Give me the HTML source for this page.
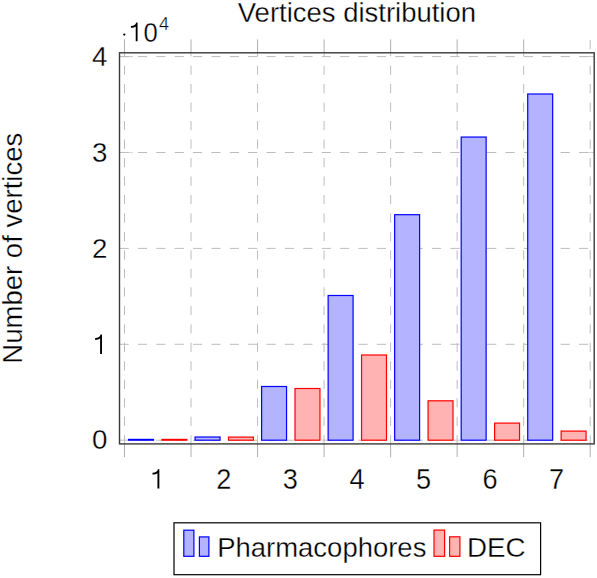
<!DOCTYPE html>
<html><head><meta charset="utf-8"><style>
html,body{margin:0;padding:0;background:#fff;}
svg{display:block;}
text{font-family:"Liberation Sans",sans-serif;}
</style></head><body>
<svg width="597" height="578" viewBox="0 0 597 578">
<rect width="597" height="578" fill="#fff"/>
<line x1="119.50" y1="152.50" x2="132.80" y2="152.50" stroke="#d6d6d6" stroke-width="1"/>
<line x1="580.90" y1="152.50" x2="594.20" y2="152.50" stroke="#d6d6d6" stroke-width="1"/>
<line x1="119.50" y1="56.60" x2="132.80" y2="56.60" stroke="#c4c4c4" stroke-width="1"/>
<line x1="580.90" y1="56.60" x2="594.20" y2="56.60" stroke="#c4c4c4" stroke-width="1"/>
<line x1="124.50" y1="47.10" x2="124.50" y2="444.5" stroke="#bdbdbd" stroke-width="1" stroke-dasharray="9.24 9.24"/>
<line x1="191.03" y1="47.10" x2="191.03" y2="444.5" stroke="#bdbdbd" stroke-width="1" stroke-dasharray="9.24 9.24"/>
<line x1="257.56" y1="47.10" x2="257.56" y2="444.5" stroke="#bdbdbd" stroke-width="1" stroke-dasharray="9.24 9.24"/>
<line x1="324.09" y1="47.10" x2="324.09" y2="444.5" stroke="#bdbdbd" stroke-width="1" stroke-dasharray="9.24 9.24"/>
<line x1="390.61" y1="47.10" x2="390.61" y2="444.5" stroke="#bdbdbd" stroke-width="1" stroke-dasharray="9.24 9.24"/>
<line x1="457.14" y1="47.10" x2="457.14" y2="444.5" stroke="#bdbdbd" stroke-width="1" stroke-dasharray="9.24 9.24"/>
<line x1="523.67" y1="47.10" x2="523.67" y2="444.5" stroke="#bdbdbd" stroke-width="1" stroke-dasharray="9.24 9.24"/>
<line x1="590.20" y1="65.58" x2="590.20" y2="444.5" stroke="#bdbdbd" stroke-width="1" stroke-dasharray="9.24 9.24"/>
<line x1="119.50" y1="440.20" x2="594.20" y2="440.20" stroke="#bdbdbd" stroke-width="1" stroke-dasharray="9.19 9.19"/>
<line x1="119.50" y1="344.30" x2="594.20" y2="344.30" stroke="#bdbdbd" stroke-width="1" stroke-dasharray="9.19 9.19"/>
<line x1="119.50" y1="248.40" x2="594.20" y2="248.40" stroke="#bdbdbd" stroke-width="1" stroke-dasharray="9.19 9.19"/>
<line x1="119.50" y1="152.50" x2="594.20" y2="152.50" stroke="#bdbdbd" stroke-width="1" stroke-dasharray="9.19 9.19"/>
<line x1="119.50" y1="56.60" x2="594.20" y2="56.60" stroke="#bdbdbd" stroke-width="1" stroke-dasharray="9.19 9.19"/>
<rect x="0" y="0" width="597" height="52.20" fill="#fff"/>
<line x1="124.50" y1="39.4" x2="124.50" y2="52.80" stroke="#b0b0b0" stroke-width="1"/>
<line x1="124.50" y1="443.90" x2="124.50" y2="457.1" stroke="#b0b0b0" stroke-width="1"/>
<line x1="191.03" y1="39.4" x2="191.03" y2="52.80" stroke="#b0b0b0" stroke-width="1"/>
<line x1="191.03" y1="443.90" x2="191.03" y2="457.1" stroke="#b0b0b0" stroke-width="1"/>
<line x1="257.56" y1="39.4" x2="257.56" y2="52.80" stroke="#b0b0b0" stroke-width="1"/>
<line x1="257.56" y1="443.90" x2="257.56" y2="457.1" stroke="#b0b0b0" stroke-width="1"/>
<line x1="324.09" y1="39.4" x2="324.09" y2="52.80" stroke="#b0b0b0" stroke-width="1"/>
<line x1="324.09" y1="443.90" x2="324.09" y2="457.1" stroke="#b0b0b0" stroke-width="1"/>
<line x1="390.61" y1="39.4" x2="390.61" y2="52.80" stroke="#b0b0b0" stroke-width="1"/>
<line x1="390.61" y1="443.90" x2="390.61" y2="457.1" stroke="#b0b0b0" stroke-width="1"/>
<line x1="457.14" y1="39.4" x2="457.14" y2="52.80" stroke="#b0b0b0" stroke-width="1"/>
<line x1="457.14" y1="443.90" x2="457.14" y2="457.1" stroke="#b0b0b0" stroke-width="1"/>
<line x1="523.67" y1="39.4" x2="523.67" y2="52.80" stroke="#b0b0b0" stroke-width="1"/>
<line x1="523.67" y1="443.90" x2="523.67" y2="457.1" stroke="#b0b0b0" stroke-width="1"/>
<line x1="590.20" y1="39.8" x2="590.20" y2="49.1" stroke="#bdbdbd" stroke-width="1"/>
<line x1="590.20" y1="443.90" x2="590.20" y2="457.1" stroke="#b0b0b0" stroke-width="1"/>
<rect x="128.55" y="439.40" width="24.95" height="0.80" fill="#b3b3ff" stroke="#0000ff" stroke-width="1.2"/>
<rect x="161.95" y="439.40" width="24.95" height="0.80" fill="#ffb3b3" stroke="#ff0000" stroke-width="1.2"/>
<rect x="195.08" y="437.00" width="24.95" height="3.20" fill="#b3b3ff" stroke="#0000ff" stroke-width="1.2"/>
<rect x="228.48" y="437.10" width="24.95" height="3.10" fill="#ffb3b3" stroke="#ff0000" stroke-width="1.2"/>
<rect x="261.61" y="386.50" width="24.95" height="53.70" fill="#b3b3ff" stroke="#0000ff" stroke-width="1.2"/>
<rect x="295.01" y="388.50" width="24.95" height="51.70" fill="#ffb3b3" stroke="#ff0000" stroke-width="1.2"/>
<rect x="328.14" y="295.50" width="24.95" height="144.70" fill="#b3b3ff" stroke="#0000ff" stroke-width="1.2"/>
<rect x="361.54" y="355.00" width="24.95" height="85.20" fill="#ffb3b3" stroke="#ff0000" stroke-width="1.2"/>
<rect x="394.66" y="214.70" width="24.95" height="225.50" fill="#b3b3ff" stroke="#0000ff" stroke-width="1.2"/>
<rect x="428.06" y="400.80" width="24.95" height="39.40" fill="#ffb3b3" stroke="#ff0000" stroke-width="1.2"/>
<rect x="461.19" y="137.05" width="24.95" height="303.15" fill="#b3b3ff" stroke="#0000ff" stroke-width="1.2"/>
<rect x="494.59" y="423.10" width="24.95" height="17.10" fill="#ffb3b3" stroke="#ff0000" stroke-width="1.2"/>
<rect x="527.72" y="94.00" width="24.95" height="346.20" fill="#b3b3ff" stroke="#0000ff" stroke-width="1.2"/>
<rect x="561.12" y="431.10" width="24.95" height="9.10" fill="#ffb3b3" stroke="#ff0000" stroke-width="1.2"/>
<rect x="119.50" y="52.80" width="474.70" height="391.10" fill="none" stroke="#3a3a3a" stroke-width="1.4"/>
<text x="237.8" y="22" font-family="Liberation Sans" fill="#000" stroke="#fff" stroke-width="0.3" font-size="28.4" textLength="238.2" lengthAdjust="spacingAndGlyphs">Vertices distribution</text>
<text x="107.4" y="449.00" font-family="Liberation Sans" fill="#000" stroke="#fff" stroke-width="0.3" font-size="27.7" text-anchor="end">0</text>
<path d="M 102.00,334.60 L 100.55,334.60 C 100.15,336.90 98.45,338.00 95.15,338.10 L 95.15,339.90 C 97.45,339.90 99.15,339.50 100.10,338.60 L 100.10,354.00 L 102.00,354.00 Z" fill="#000"/>
<text x="107.4" y="258.00" font-family="Liberation Sans" fill="#000" stroke="#fff" stroke-width="0.3" font-size="27.7" text-anchor="end">2</text>
<text x="107.4" y="162.00" font-family="Liberation Sans" fill="#000" stroke="#fff" stroke-width="0.3" font-size="27.7" text-anchor="end">3</text>
<text x="107.4" y="66.00" font-family="Liberation Sans" fill="#000" stroke="#fff" stroke-width="0.3" font-size="27.7" text-anchor="end">4</text>
<path d="M 159.35,469.20 L 157.90,469.20 C 157.50,471.50 155.80,472.60 152.50,472.70 L 152.50,474.50 C 154.80,474.50 156.50,474.10 157.45,473.20 L 157.45,488.60 L 159.35,488.60 Z" fill="#000"/>
<text transform="translate(223.89,489) scale(0.95,1)" x="0" y="0" font-family="Liberation Sans" fill="#000" stroke="#fff" stroke-width="0.3" font-size="28.6" text-anchor="middle">2</text>
<text transform="translate(290.42,489) scale(0.95,1)" x="0" y="0" font-family="Liberation Sans" fill="#000" stroke="#fff" stroke-width="0.3" font-size="28.6" text-anchor="middle">3</text>
<text transform="translate(356.95,489) scale(0.95,1)" x="0" y="0" font-family="Liberation Sans" fill="#000" stroke="#fff" stroke-width="0.3" font-size="28.6" text-anchor="middle">4</text>
<text transform="translate(423.48,489) scale(0.95,1)" x="0" y="0" font-family="Liberation Sans" fill="#000" stroke="#fff" stroke-width="0.3" font-size="28.6" text-anchor="middle">5</text>
<text transform="translate(490.01,489) scale(0.95,1)" x="0" y="0" font-family="Liberation Sans" fill="#000" stroke="#fff" stroke-width="0.3" font-size="28.6" text-anchor="middle">6</text>
<text transform="translate(556.54,489) scale(0.95,1)" x="0" y="0" font-family="Liberation Sans" fill="#000" stroke="#fff" stroke-width="0.3" font-size="28.6" text-anchor="middle">7</text>
<circle cx="124.3" cy="34.6" r="1.15" fill="#000"/>
<path d="M 137.57,22.50 L 136.17,22.50 C 135.78,24.73 134.13,25.79 130.93,25.89 L 130.93,27.64 C 133.16,27.64 134.81,27.25 135.73,26.38 L 135.73,41.30 L 137.57,41.30 Z" fill="#000"/>
<text x="143.6" y="41.7" font-family="Liberation Sans" fill="#000" stroke="#fff" stroke-width="0.3" font-size="27.6" transform="translate(143.6,0) scale(0.93,1) translate(-143.6,0)">0</text>
<text x="158.9" y="30" font-family="Liberation Sans" fill="#000" stroke="#fff" stroke-width="0.3" font-size="18">4</text>
<text transform="translate(22.4,248.2) rotate(-90)" x="0" y="0" font-family="Liberation Sans" fill="#000" stroke="#fff" stroke-width="0.3" font-size="28.4" text-anchor="middle" textLength="231" lengthAdjust="spacingAndGlyphs">Number of vertices</text>
<rect x="174.0" y="522.8" width="366.6" height="51.9" fill="#fff" stroke="#000" stroke-width="1.2"/>
<rect x="183.80" y="530.20" width="10.10" height="26.10" fill="#b3b3ff" stroke="#0000ff" stroke-width="1.2"/>
<rect x="199.40" y="536.90" width="9.50" height="19.40" fill="#b3b3ff" stroke="#0000ff" stroke-width="1.2"/>
<text x="217.2" y="557" font-family="Liberation Sans" fill="#000" stroke="#fff" stroke-width="0.3" font-size="27.7" textLength="209.2" lengthAdjust="spacingAndGlyphs">Pharmacophores</text>
<rect x="434.00" y="530.10" width="10.60" height="26.20" fill="#ffb3b3" stroke="#ff0000" stroke-width="1.2"/>
<rect x="449.60" y="536.80" width="10.30" height="19.50" fill="#ffb3b3" stroke="#ff0000" stroke-width="1.2"/>
<text x="466.9" y="557" font-family="Liberation Sans" fill="#000" stroke="#fff" stroke-width="0.3" font-size="27.7" textLength="58.6" lengthAdjust="spacingAndGlyphs">DEC</text>
</svg>
</body></html>
